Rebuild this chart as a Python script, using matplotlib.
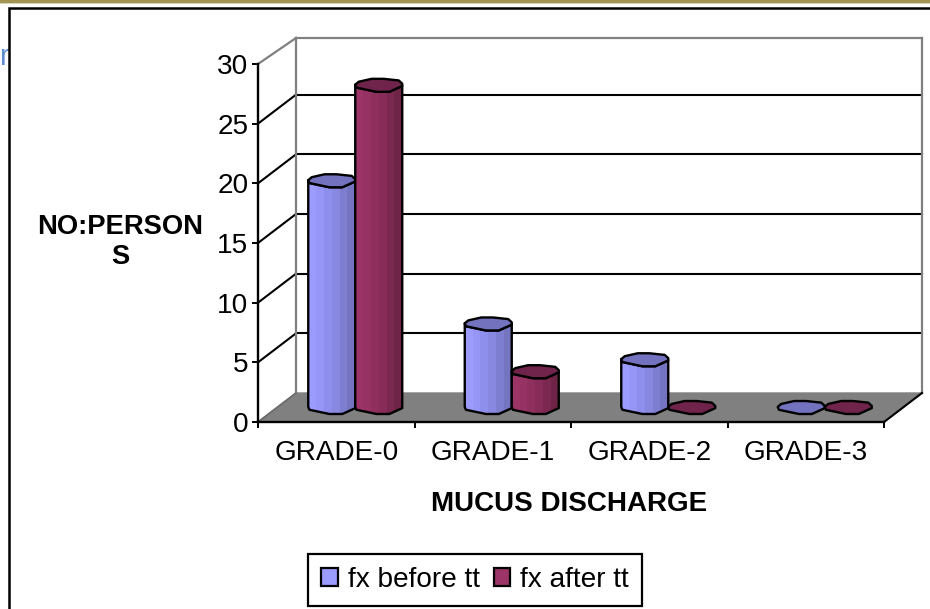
import matplotlib
matplotlib.use('Agg')
from matplotlib import pyplot as plt
from matplotlib.patches import Polygon, Rectangle

plt.rcParams['font.family'] = ['Liberation Sans', 'DejaVu Sans']

# Data
categories = ['GRADE-0', 'GRADE-1', 'GRADE-2', 'GRADE-3']
fx_before = [19, 7, 4, 0]
fx_after = [27, 3, 0, 0]
y_ticks = [0, 5, 10, 15, 20, 25, 30]

W, H = 930, 609
# axes box, in pixels
left, right, top, bottom = 258, 884, 64, 422
x_px = 4 / (right - left)  # data units per pixel
y_px = 30 / (bottom - top)
depth_x = 38 * x_px  # 3d depth of the floor
depth_y = 29 * y_px
wall_top = 30 + depth_y - 3 * y_px  # top edge of the back wall sits a bit low

blues = ['#9C9CFF', '#9696F6', '#8E8EEC', '#8888E0', '#7E7ED0', '#7474C0']
reds = ['#9C3468', '#963264', '#8E2F5E', '#872C59', '#7A284F', '#6E2447']
blue_cap = '#7272BE'
red_cap = '#70244C'

fig = plt.figure(figsize=(W / 100, H / 100), dpi=100)
ax = fig.add_axes([left / W, 1 - bottom / H, (right - left) / W, (bottom - top) / H])
ax.set_xlim(0, 4)
ax.set_ylim(0, 30)
ax.patch.set_visible(False)

# slide decoration round the chart
fig.text(0.5 / W, 1 - 57 / H, 'r', color='#5B8FD0', fontsize=21, va='center', ha='left', zorder=-2)
fig.add_artist(Rectangle((0, 1 - 3 / H), 1, 3 / H, transform=fig.transFigure, fc='#A09555', ec='none'))
fig.add_artist(Rectangle((0, 1 - 3.6 / H), 1, 0.6 / H, transform=fig.transFigure, fc='#D8D4B8', ec='none'))
fig.add_artist(Rectangle((9 / W, -0.02), 1, 1.02 - 8.5 / H, transform=fig.transFigure,
                         fc='white', ec='black', lw=1.8, zorder=-1))

# walls and floor
ax.add_patch(Polygon([(0, 0), (4, 0), (4 + depth_x, depth_y), (depth_x, depth_y)],
                     fc='#808080', ec='#808080', lw=1, clip_on=False, zorder=1))
for t in y_ticks[1:-1]:
    ax.plot([0, depth_x], [t, t + depth_y], color='black', lw=1.5, clip_on=False, zorder=2)
    ax.plot([depth_x, 4 + depth_x], [t + depth_y, t + depth_y], color='black', lw=1.5, clip_on=False, zorder=2)
ax.plot([0, depth_x], [30, wall_top], color='#808080', lw=1.6, clip_on=False, zorder=2)
ax.plot([depth_x, 4 + depth_x], [wall_top, wall_top], color='#808080', lw=1.6, clip_on=False, zorder=2)
ax.plot([depth_x, depth_x], [depth_y, wall_top], color='#808080', lw=1.6, clip_on=False, zorder=2)
ax.plot([4 + depth_x, 4 + depth_x], [depth_y, wall_top], color='#808080', lw=1.6, clip_on=False, zorder=2)
ax.plot([0, depth_x], [0, depth_y], color='#6a6a6a', lw=1.2, clip_on=False, zorder=2)
ax.plot([4, 4 + depth_x], [0, depth_y], color='black', lw=1.5, clip_on=False, zorder=2)

# outline of the column section, as fractions of half width and half depth
front_edge = [(-1, 0.1), (-0.95, -0.35), (-0.1, -1), (0.45, -1), (1, -0.1)]
back_edge = [(1, 0.25), (0.85, 0.75), (0.2, 1), (-0.3, 1), (-0.85, 0.55)]


def draw_column(centre, value, colors, cap_color, z):
    half_w = 23.5 * x_px
    half_d = 6.5 * y_px
    cx = centre + depth_x / 2
    base = depth_y / 2
    cap = [(cx + u * half_w, value + base + v * half_d) for u, v in front_edge + back_edge]
    if value > 0:
        outline = [(cx + u * half_w, base + v * half_d) for u, v in front_edge]
        outline += [(cx + u * half_w, value + base + v * half_d) for u, v in reversed(front_edge)]
        body = Polygon(outline, fc='none', ec='black', lw=1.7, clip_on=False, zorder=z + 0.2,
                       joinstyle='round')
        ax.add_patch(body)
        step = 2 * half_w / len(colors)
        for i, c in enumerate(colors):
            strip = ax.bar(cx - half_w + step * (i + 0.5), value + 2 * half_d + base, step * 1.02,
                           bottom=-half_d, color=c, zorder=z)[0]
            strip.set_clip_path(body)
    ax.add_patch(Polygon(cap, fc=cap_color, ec='black', lw=1.7, clip_on=False, zorder=z + 0.3,
                         joinstyle='round'))


bar_w = 47 * x_px
for i in range(len(categories)):
    draw_column(i + 0.5 - bar_w / 2, fx_before[i], blues, blue_cap, 3 + i)
    draw_column(i + 0.5 + bar_w / 2, fx_after[i], reds, red_cap, 3.5 + i)

# axes
for s in ['top', 'right']:
    ax.spines[s].set_visible(False)
for s in ['left', 'bottom']:
    ax.spines[s].set_linewidth(1.7)
    ax.spines[s].set_zorder(20)
ax.set_yticks(y_ticks)
ax.set_xticks(range(5))
ax.set_xticklabels([])
ax.set_xticks([i + 0.5 for i in range(4)], categories, minor=True)
ax.tick_params(axis='x', which='major', length=4.5, width=1.4, direction='out')
ax.tick_params(axis='x', which='minor', length=0, labelsize=20.2, pad=13)
ax.tick_params(axis='y', length=4.5, width=1.4, labelsize=20.2, pad=2.5)
ax.set_ylabel('NO:PERSON\nS', fontsize=19.7, fontweight='bold', rotation=0, ha='center', va='center')
ax.yaxis.set_label_coords((120 - left) / (right - left), (bottom - 242) / (bottom - top))
ax.set_xlabel('MUCUS DISCHARGE', fontsize=20, fontweight='bold', va='center')
ax.xaxis.set_label_coords((569 - left) / (right - left), (bottom - 504) / (bottom - top))

# legend
handles = [Rectangle((0, 0), 1, 1, fc=blues[0], ec='black', lw=1.6),
           Rectangle((0, 0), 1, 1, fc=reds[0], ec='black', lw=1.6)]
leg = fig.legend(handles, ['fx before tt', 'fx after tt'], ncol=2, loc='center',
                 bbox_to_anchor=(475 / W, 1 - 580 / H), fontsize=20.2, frameon=True, fancybox=False,
                 edgecolor='black', framealpha=1, handlelength=0.6, handleheight=0.6,
                 handletextpad=0.35, columnspacing=0.5, borderpad=0.45, borderaxespad=0)
leg.get_frame().set_linewidth(1.6)

fig.savefig('out.png', dpi=100)
